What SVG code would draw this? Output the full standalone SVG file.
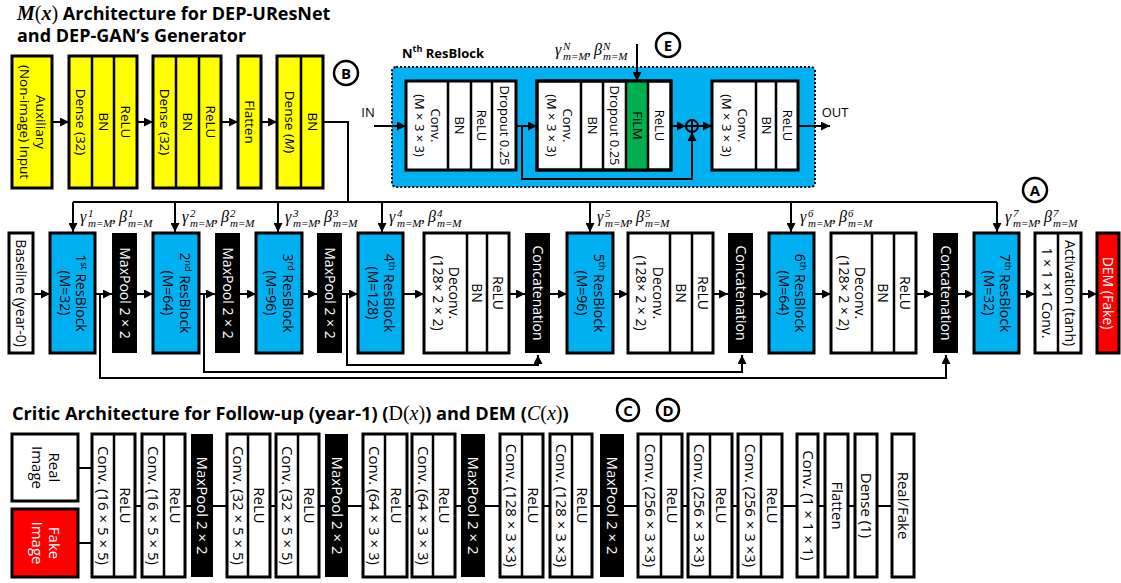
<svg xmlns="http://www.w3.org/2000/svg" width="1121" height="583" viewBox="0 0 1121 583">
<style>
.bx{stroke:#000;stroke-width:3}
.w{fill:#fff}
.y{fill:#ffff00}
.b{fill:#00b0f0}
.k{fill:#000}
.r{fill:#ff0000}
.g{fill:#00b050}
.dv{stroke:#000;stroke-width:2.5;fill:none}
.t{font-family:"Open Sans","Noto Sans","DejaVu Sans",sans-serif;font-size:14px;text-anchor:middle;fill:#000}
.t13{font-size:13px}
.ty{font-size:13.5px}
.t15{font-size:15px}
.tw{fill:#fff}
.c{stroke:#000;stroke-width:2;fill:none}
.ca{stroke:#000;stroke-width:2;fill:none;marker-end:url(#ah)}
.h{font-family:"Open Sans","Noto Sans",sans-serif;font-weight:bold;font-size:18px;fill:#000}
.h2{font-size:18.2px}
.h3{font-size:13px}
.mt{font-family:"Liberation Serif","DejaVu Serif",serif;font-weight:normal}
.mb{font-family:"Liberation Serif","DejaVu Serif",serif;font-weight:bold}
.it{font-style:italic}
.m{font-family:"Liberation Serif","DejaVu Serif",serif;font-style:italic;font-size:16px;fill:#000}
.s{font-size:11px}
.circ{fill:#fff;stroke:#000;stroke-width:2.5}
.ct{font-family:"Open Sans","Noto Sans",sans-serif;font-weight:bold;font-size:15px;text-anchor:middle}
.sp{font-size:9px}
</style>
<defs>
<marker id="ah" markerWidth="9" markerHeight="9" refX="9" refY="4.5" orient="auto" markerUnits="userSpaceOnUse"><path d="M0,0 L9,4.5 L0,9 Z" fill="#000"/></marker>
</defs>
<rect width="1121" height="583" fill="#fff"/>

<!-- Titles -->
<g id="title-generator">
<text class="h" x="17" y="20"><tspan class="mb it" font-size="20">M</tspan><tspan class="mt" font-size="20">(</tspan><tspan class="mb it" font-size="20">x</tspan><tspan class="mt" font-size="20">)</tspan> Architecture for DEP-UResNet</text>
<text class="h" x="17" y="42">and DEP-GAN’s Generator</text>
</g>
<g id="title-critic">
<text class="h h2" x="12" y="420">Critic Architecture for Follow-up (year-1) (<tspan class="mt" font-size="20">D</tspan><tspan class="mt" font-size="20">(</tspan><tspan class="mt it" font-size="20">x</tspan><tspan class="mt" font-size="20">)</tspan>) and DEM (<tspan class="mt it" font-size="20">C</tspan><tspan class="mt" font-size="20">(</tspan><tspan class="mt it" font-size="20">x</tspan><tspan class="mt" font-size="20">)</tspan>)</text>
</g>

<!-- Nth ResBlock container (drawn under the connectors) -->
<g id="resblock-detail">
<text class="h h3" x="402" y="58">N<tspan font-size="9" dy="-6">th</tspan><tspan dy="6"> ResBlock</tspan></text>
<rect x="392" y="67" width="423" height="120" rx="4" fill="#00b0f0" stroke="#000" stroke-width="2" stroke-dasharray="2,2"/>
</g>

<!-- Connectors -->
<g id="connectors">
<path class="ca" d="M52,122H69"/>
<path class="ca" d="M137,122H153"/>
<path class="ca" d="M221,122H238"/>
<path class="ca" d="M261,122H277"/>
<path class="c" d="M323,122H348V202"/>
<path class="c" d="M73,202H997"/>
<path class="ca" d="M73,202V232"/>
<path class="ca" d="M175,202V232"/>
<path class="ca" d="M278,202V232"/>
<path class="ca" d="M382,202V232"/>
<path class="ca" d="M590,202V232"/>
<path class="ca" d="M791,202V232"/>
<path class="ca" d="M997,202V232"/>
<!-- main row -->
<path class="ca" d="M33,294H50"/>
<path class="ca" d="M95,294H112"/>
<path class="ca" d="M137,294H153"/>
<path class="ca" d="M199,294H215"/>
<path class="ca" d="M240,294H256"/>
<path class="ca" d="M302,294H317"/>
<path class="ca" d="M342,294H358"/>
<path class="ca" d="M403,294H424"/>
<path class="ca" d="M509,294H525"/>
<path class="ca" d="M550,294H567"/>
<path class="ca" d="M613,294H628"/>
<path class="ca" d="M713,294H728"/>
<path class="ca" d="M753,294H769"/>
<path class="ca" d="M814,294H831"/>
<path class="ca" d="M916,294H933"/>
<path class="ca" d="M958,294H974"/>
<path class="ca" d="M1019,294H1035"/>
<path class="ca" d="M1081,294H1097"/>
<!-- skip connections -->
<path class="ca" d="M100,294V378H946V355"/>
<path class="ca" d="M204,294V372H742V355"/>
<path class="ca" d="M347,294V365H538V355"/>
<!-- ResBlock internals -->
<path class="ca" d="M374,126H406"/>
<path class="ca" d="M516,126H537"/>
<path class="ca" d="M522,126V179H692V132"/>
<path class="ca" d="M671,126H686"/>
<path class="ca" d="M698,126H712"/>
<path class="ca" d="M798,126H830"/>
<path class="ca" d="M637,44V81"/>
<!-- critic lines -->
<path class="c" d="M78,468H92M78,543H92M135,506H142M185,506H191M213,506H227M270,506H276M319,506H325M348,506H363M407,506H412M455,506H461M485,506H500M543,506H550M592,506H600M624,506H638M682,506H688M732,506H738M782,506H797M818,506H825M848,506H855M877,506H892"/>
</g>

<!-- M(x) yellow nodes -->
<g id="aux-input"><rect class="bx y" x="12" y="56" width="40" height="132"/>
<text class="t ty" transform="translate(32,122) rotate(90)"><tspan x="0" y="-3.5">Auxiliary</tspan><tspan x="0" y="12.5">(Non-image) Input</tspan></text></g>
<g id="dense1"><rect class="bx y" x="69" y="56" width="68" height="132"/><path class="dv" d="M92,56V188M114,56V188"/>
<text class="t ty" transform="translate(80.5,122) rotate(90)" y="4.5">Dense (32)</text>
<text class="t ty" transform="translate(103,122) rotate(90)" y="4.5">BN</text>
<text class="t ty" transform="translate(125.5,122) rotate(90)" y="4.5">ReLU</text></g>
<g id="dense2"><rect class="bx y" x="153" y="56" width="68" height="132"/><path class="dv" d="M176,56V188M199,56V188"/>
<text class="t ty" transform="translate(164.5,122) rotate(90)" y="4.5">Dense (32)</text>
<text class="t ty" transform="translate(187.5,122) rotate(90)" y="4.5">BN</text>
<text class="t ty" transform="translate(210,122) rotate(90)" y="4.5">ReLU</text></g>
<g id="flatten-m"><rect class="bx y" x="238" y="56" width="23" height="132"/>
<text class="t ty" transform="translate(249.5,122) rotate(90)" y="4.5">Flatten</text></g>
<g id="dense-m"><rect class="bx y" x="277" y="56" width="46" height="132"/><path class="dv" d="M301,56V188"/>
<text class="t ty" transform="translate(289,122) rotate(90)" y="4.5">Dense (<tspan class="it">M</tspan>)</text>
<text class="t ty" transform="translate(312,122) rotate(90)" y="4.5">BN</text></g>
<g id="mark-b"><circle class="circ" cx="346" cy="73" r="12"/><text class="ct" x="346" y="78.5">B</text></g>

<!-- Nth ResBlock inner nodes -->
<g id="rb-group1"><rect class="bx w" x="406" y="81" width="110" height="89"/><path class="dv" d="M448,81V170M471,81V170M492,81V170"/>
<text class="t t13" transform="translate(427,125.5) rotate(90)"><tspan x="0" y="-3.5">Conv.</tspan><tspan x="0" y="12.5">(M × 3 × 3)</tspan></text>
<text class="t t13" transform="translate(459.5,125.5) rotate(90)" y="4.5">BN</text>
<text class="t t13" transform="translate(481.5,125.5) rotate(90)" y="4.5">ReLU</text>
<text class="t t13" transform="translate(504,125.5) rotate(90)" y="4.5">Dropout 0.25</text></g>
<g id="rb-group2"><rect class="bx w" x="537" y="81" width="134" height="89"/><rect class="g" x="626" y="81" width="22" height="89"/><rect x="537" y="81" width="134" height="89" fill="none" stroke="#000" stroke-width="3"/><path class="dv" d="M581,81V170M603,81V170M626,81V170M648,81V170"/>
<text class="t t13" transform="translate(559,125.5) rotate(90)"><tspan x="0" y="-3.5">Conv.</tspan><tspan x="0" y="12.5">(M × 3 × 3)</tspan></text>
<text class="t t13" transform="translate(592,125.5) rotate(90)" y="4.5">BN</text>
<text class="t t13" transform="translate(614.5,125.5) rotate(90)" y="4.5">Dropout 0.25</text>
<text class="t t13" transform="translate(637,125.5) rotate(90)" y="4.5">FiLM</text>
<text class="t t13" transform="translate(659.5,125.5) rotate(90)" y="4.5">ReLU</text></g>
<g id="rb-add"><circle cx="692" cy="126" r="6" fill="none" stroke="#000" stroke-width="2"/><path d="M686,126H698M692,120V132" stroke="#000" stroke-width="2"/></g>
<g id="rb-group3"><rect class="bx w" x="712" y="81" width="86" height="89"/><path class="dv" d="M756,81V170M776,81V170"/>
<text class="t t13" transform="translate(734,125.5) rotate(90)"><tspan x="0" y="-3.5">Conv.</tspan><tspan x="0" y="12.5">(M × 3 × 3)</tspan></text>
<text class="t t13" transform="translate(766,125.5) rotate(90)" y="4.5">BN</text>
<text class="t t13" transform="translate(787,125.5) rotate(90)" y="4.5">ReLU</text></g>
<g id="rb-io"><text class="t t13" x="368" y="117">IN</text><text class="t t13" x="835" y="117">OUT</text></g>
<g id="film-label"><text class="m"><tspan x="555" y="55">γ</tspan><tspan class="s" x="563" y="50">N</tspan><tspan class="s" x="563" y="60">m=M</tspan><tspan x="587" y="55">,</tspan><tspan x="594" y="55">β</tspan><tspan class="s" x="603" y="50">N</tspan><tspan class="s" x="603" y="60">m=M</tspan></text></g>
<g id="mark-e"><circle class="circ" cx="668" cy="45" r="12"/><text class="ct" x="668" y="50.5">E</text></g>
<g id="mark-a"><circle class="circ" cx="1035" cy="190" r="12"/><text class="ct" x="1035" y="195.5">A</text></g>

<!-- FiLM parameter labels -->
<g id="film-labels">
<text class="m"><tspan x="80" y="222">γ</tspan><tspan class="s" x="88" y="217">1</tspan><tspan class="s" x="88" y="227">m=M</tspan><tspan x="112" y="222">,</tspan><tspan x="119" y="222">β</tspan><tspan class="s" x="128" y="217">1</tspan><tspan class="s" x="128" y="227">m=M</tspan></text>
<text class="m"><tspan x="182" y="222">γ</tspan><tspan class="s" x="190" y="217">2</tspan><tspan class="s" x="190" y="227">m=M</tspan><tspan x="214" y="222">,</tspan><tspan x="221" y="222">β</tspan><tspan class="s" x="230" y="217">2</tspan><tspan class="s" x="230" y="227">m=M</tspan></text>
<text class="m"><tspan x="285" y="222">γ</tspan><tspan class="s" x="293" y="217">3</tspan><tspan class="s" x="293" y="227">m=M</tspan><tspan x="317" y="222">,</tspan><tspan x="324" y="222">β</tspan><tspan class="s" x="333" y="217">3</tspan><tspan class="s" x="333" y="227">m=M</tspan></text>
<text class="m"><tspan x="389" y="222">γ</tspan><tspan class="s" x="397" y="217">4</tspan><tspan class="s" x="397" y="227">m=M</tspan><tspan x="421" y="222">,</tspan><tspan x="428" y="222">β</tspan><tspan class="s" x="437" y="217">4</tspan><tspan class="s" x="437" y="227">m=M</tspan></text>
<text class="m"><tspan x="597" y="222">γ</tspan><tspan class="s" x="605" y="217">5</tspan><tspan class="s" x="605" y="227">m=M</tspan><tspan x="629" y="222">,</tspan><tspan x="636" y="222">β</tspan><tspan class="s" x="645" y="217">5</tspan><tspan class="s" x="645" y="227">m=M</tspan></text>
<text class="m"><tspan x="800" y="222">γ</tspan><tspan class="s" x="808" y="217">6</tspan><tspan class="s" x="808" y="227">m=M</tspan><tspan x="832" y="222">,</tspan><tspan x="839" y="222">β</tspan><tspan class="s" x="848" y="217">6</tspan><tspan class="s" x="848" y="227">m=M</tspan></text>
<text class="m"><tspan x="1005" y="222">γ</tspan><tspan class="s" x="1013" y="217">7</tspan><tspan class="s" x="1013" y="227">m=M</tspan><tspan x="1037" y="222">,</tspan><tspan x="1044" y="222">β</tspan><tspan class="s" x="1053" y="217">7</tspan><tspan class="s" x="1053" y="227">m=M</tspan></text>
</g>

<!-- Main row -->
<g id="baseline"><rect class="bx w" x="9" y="233" width="24" height="120"/>
<text class="t" transform="translate(21,293) rotate(90)" y="5">Baseline (year-0)</text></g>
<g id="resblock1"><rect class="bx b" x="50" y="233" width="45" height="120"/>
<text class="t" transform="translate(72.5,293) rotate(90)"><tspan x="0" y="-3.5">1<tspan class="sp" dy="-5">st</tspan><tspan dy="5"> ResBlock</tspan></tspan><tspan x="0" y="13">(M=32)</tspan></text></g>
<g id="maxpool1"><rect class="k" x="112" y="233" width="25" height="120"/>
<text class="t tw" transform="translate(124.5,293) rotate(90)" y="5">MaxPool 2 × 2</text></g>
<g id="resblock2"><rect class="bx b" x="153" y="233" width="46" height="120"/>
<text class="t" transform="translate(176,293) rotate(90)"><tspan x="0" y="-3.5">2<tspan class="sp" dy="-5">nd</tspan><tspan dy="5"> ResBlock</tspan></tspan><tspan x="0" y="13">(M=64)</tspan></text></g>
<g id="maxpool2"><rect class="k" x="215" y="233" width="25" height="120"/>
<text class="t tw" transform="translate(227.5,293) rotate(90)" y="5">MaxPool 2 × 2</text></g>
<g id="resblock3"><rect class="bx b" x="256" y="233" width="46" height="120"/>
<text class="t" transform="translate(279,293) rotate(90)"><tspan x="0" y="-3.5">3<tspan class="sp" dy="-5">rd</tspan><tspan dy="5"> ResBlock</tspan></tspan><tspan x="0" y="13">(M=96)</tspan></text></g>
<g id="maxpool3"><rect class="k" x="317" y="233" width="25" height="120"/>
<text class="t tw" transform="translate(329.5,293) rotate(90)" y="5">MaxPool 2 × 2</text></g>
<g id="resblock4"><rect class="bx b" x="358" y="233" width="45" height="120"/>
<text class="t" transform="translate(380.5,293) rotate(90)"><tspan x="0" y="-3.5">4<tspan class="sp" dy="-5">th</tspan><tspan dy="5"> ResBlock</tspan></tspan><tspan x="0" y="13">(M=128)</tspan></text></g>
<g id="deconv1"><rect class="bx w" x="424" y="233" width="85" height="120"/><path class="dv" d="M467,233V353M487,233V353"/>
<text class="t" transform="translate(445.5,293) rotate(90)"><tspan x="0" y="-3.5">Deconv.</tspan><tspan x="0" y="13">(128× 2 × 2)</tspan></text>
<text class="t" transform="translate(477,293) rotate(90)" y="5">BN</text>
<text class="t" transform="translate(498,293) rotate(90)" y="5">ReLU</text></g>
<g id="concat1"><rect class="k" x="525" y="233" width="25" height="120"/>
<text class="t tw" transform="translate(537.5,293) rotate(90)" y="5">Concatenation</text></g>
<g id="resblock5"><rect class="bx b" x="567" y="233" width="46" height="120"/>
<text class="t" transform="translate(590,293) rotate(90)"><tspan x="0" y="-3.5">5<tspan class="sp" dy="-5">th</tspan><tspan dy="5"> ResBlock</tspan></tspan><tspan x="0" y="13">(M=96)</tspan></text></g>
<g id="deconv2"><rect class="bx w" x="628" y="233" width="85" height="120"/><path class="dv" d="M670,233V353M692,233V353"/>
<text class="t" transform="translate(649,293) rotate(90)"><tspan x="0" y="-3.5">Deconv.</tspan><tspan x="0" y="13">(128× 2 × 2)</tspan></text>
<text class="t" transform="translate(681,293) rotate(90)" y="5">BN</text>
<text class="t" transform="translate(702.5,293) rotate(90)" y="5">ReLU</text></g>
<g id="concat2"><rect class="k" x="728" y="233" width="25" height="120"/>
<text class="t tw" transform="translate(740.5,293) rotate(90)" y="5">Concatenation</text></g>
<g id="resblock6"><rect class="bx b" x="769" y="233" width="45" height="120"/>
<text class="t" transform="translate(791.5,293) rotate(90)"><tspan x="0" y="-3.5">6<tspan class="sp" dy="-5">th</tspan><tspan dy="5"> ResBlock</tspan></tspan><tspan x="0" y="13">(M=64)</tspan></text></g>
<g id="deconv3"><rect class="bx w" x="831" y="233" width="85" height="120"/><path class="dv" d="M872,233V353M894,233V353"/>
<text class="t" transform="translate(851.5,293) rotate(90)"><tspan x="0" y="-3.5">Deconv.</tspan><tspan x="0" y="13">(128× 2 × 2)</tspan></text>
<text class="t" transform="translate(883,293) rotate(90)" y="5">BN</text>
<text class="t" transform="translate(905,293) rotate(90)" y="5">ReLU</text></g>
<g id="concat3"><rect class="k" x="933" y="233" width="25" height="120"/>
<text class="t tw" transform="translate(945.5,293) rotate(90)" y="5">Concatenation</text></g>
<g id="resblock7"><rect class="bx b" x="974" y="233" width="45" height="120"/>
<text class="t" transform="translate(996.5,293) rotate(90)"><tspan x="0" y="-3.5">7<tspan class="sp" dy="-5">th</tspan><tspan dy="5"> ResBlock</tspan></tspan><tspan x="0" y="13">(M=32)</tspan></text></g>
<g id="output-conv"><rect class="bx w" x="1035" y="233" width="46" height="120"/><path class="dv" d="M1058,233V353"/>
<text class="t" transform="translate(1046.5,293) rotate(90)" y="5">1 × 1 ×1 Conv.</text>
<text class="t" transform="translate(1069.5,293) rotate(90)" y="5">Activation (tanh)</text></g>
<g id="dem-fake"><rect class="bx r" x="1097" y="233" width="22" height="120"/>
<text class="t tw" transform="translate(1108,293) rotate(90)" y="5">DEM (Fake)</text></g>

<!-- Critic -->
<g id="mark-c"><circle class="circ" cx="628" cy="410" r="11"/><text class="ct" x="628" y="415.5">C</text></g>
<g id="mark-d"><circle class="circ" cx="668" cy="410" r="11"/><text class="ct" x="668" y="415.5">D</text></g>
<g id="real-image"><rect class="bx w" x="12" y="434" width="66" height="67"/>
<text class="t t15" transform="translate(45,467.5) rotate(90)"><tspan x="0" y="-4">Real</tspan><tspan x="0" y="13.5">Image</tspan></text></g>
<g id="fake-image"><rect class="bx r" x="12" y="509" width="66" height="68"/>
<text class="t t15 tw" transform="translate(45,543) rotate(90)"><tspan x="0" y="-4">Fake</tspan><tspan x="0" y="13.5">Image</tspan></text></g>
<g id="c-conv1"><rect class="bx w" x="92" y="434" width="43" height="143"/><path class="dv" d="M114,434V577"/>
<text class="t t15" transform="translate(103,505.5) rotate(90)" y="5">Conv. (16 × 5 × 5)</text>
<text class="t t15" transform="translate(124.5,505.5) rotate(90)" y="5">ReLU</text></g>
<g id="c-conv2"><rect class="bx w" x="142" y="434" width="43" height="143"/><path class="dv" d="M164,434V577"/>
<text class="t t15" transform="translate(153,505.5) rotate(90)" y="5">Conv. (16 × 5 × 5)</text>
<text class="t t15" transform="translate(174.5,505.5) rotate(90)" y="5">ReLU</text></g>
<g id="c-pool1"><rect class="k" x="191" y="434" width="22" height="143"/>
<text class="t t15 tw" transform="translate(202,505.5) rotate(90)" y="5">MaxPool 2 × 2</text></g>
<g id="c-conv3"><rect class="bx w" x="227" y="434" width="43" height="143"/><path class="dv" d="M248,434V577"/>
<text class="t t15" transform="translate(237.5,505.5) rotate(90)" y="5">Conv. (32 × 5 × 5)</text>
<text class="t t15" transform="translate(259,505.5) rotate(90)" y="5">ReLU</text></g>
<g id="c-conv4"><rect class="bx w" x="276" y="434" width="43" height="143"/><path class="dv" d="M298,434V577"/>
<text class="t t15" transform="translate(287,505.5) rotate(90)" y="5">Conv. (32 × 5 × 5)</text>
<text class="t t15" transform="translate(308.5,505.5) rotate(90)" y="5">ReLU</text></g>
<g id="c-pool2"><rect class="k" x="325" y="434" width="23" height="143"/>
<text class="t t15 tw" transform="translate(336.5,505.5) rotate(90)" y="5">MaxPool 2 × 2</text></g>
<g id="c-conv5"><rect class="bx w" x="363" y="434" width="44" height="143"/><path class="dv" d="M385,434V577"/>
<text class="t t15" transform="translate(374,505.5) rotate(90)" y="5">Conv. (64 × 3 × 3)</text>
<text class="t t15" transform="translate(396,505.5) rotate(90)" y="5">ReLU</text></g>
<g id="c-conv6"><rect class="bx w" x="412" y="434" width="43" height="143"/><path class="dv" d="M433,434V577"/>
<text class="t t15" transform="translate(422.5,505.5) rotate(90)" y="5">Conv. (64 × 3 × 3)</text>
<text class="t t15" transform="translate(444,505.5) rotate(90)" y="5">ReLU</text></g>
<g id="c-pool3"><rect class="k" x="461" y="434" width="24" height="143"/>
<text class="t t15 tw" transform="translate(473,505.5) rotate(90)" y="5">MaxPool 2 × 2</text></g>
<g id="c-conv7"><rect class="bx w" x="500" y="434" width="43" height="143"/><path class="dv" d="M522,434V577"/>
<text class="t t15" transform="translate(511,505.5) rotate(90)" y="5">Conv. (128 × 3 ×3)</text>
<text class="t t15" transform="translate(532.5,505.5) rotate(90)" y="5">ReLU</text></g>
<g id="c-conv8"><rect class="bx w" x="550" y="434" width="42" height="143"/><path class="dv" d="M572,434V577"/>
<text class="t t15" transform="translate(561,505.5) rotate(90)" y="5">Conv. (128 × 3 ×3)</text>
<text class="t t15" transform="translate(582,505.5) rotate(90)" y="5">ReLU</text></g>
<g id="c-pool4"><rect class="k" x="600" y="434" width="24" height="143"/>
<text class="t t15 tw" transform="translate(612,505.5) rotate(90)" y="5">MaxPool 2 × 2</text></g>
<g id="c-conv9"><rect class="bx w" x="638" y="434" width="44" height="143"/><path class="dv" d="M661,434V577"/>
<text class="t t15" transform="translate(649.5,505.5) rotate(90)" y="5">Conv. (256 × 3 ×3)</text>
<text class="t t15" transform="translate(671.5,505.5) rotate(90)" y="5">ReLU</text></g>
<g id="c-conv10"><rect class="bx w" x="688" y="434" width="44" height="143"/><path class="dv" d="M710,434V577"/>
<text class="t t15" transform="translate(699,505.5) rotate(90)" y="5">Conv. (256 × 3 ×3)</text>
<text class="t t15" transform="translate(721,505.5) rotate(90)" y="5">ReLU</text></g>
<g id="c-conv11"><rect class="bx w" x="738" y="434" width="44" height="143"/><path class="dv" d="M761,434V577"/>
<text class="t t15" transform="translate(749.5,505.5) rotate(90)" y="5">Conv. (256 × 3 ×3)</text>
<text class="t t15" transform="translate(771.5,505.5) rotate(90)" y="5">ReLU</text></g>
<g id="c-conv12"><rect class="bx w" x="797" y="434" width="21" height="143"/>
<text class="t t15" transform="translate(807.5,505.5) rotate(90)" y="5">Conv. (1 × 1 × 1)</text></g>
<g id="c-flatten"><rect class="bx w" x="825" y="434" width="23" height="143"/>
<text class="t t15" transform="translate(836.5,505.5) rotate(90)" y="5">Flatten</text></g>
<g id="c-dense"><rect class="bx w" x="855" y="434" width="22" height="143"/>
<text class="t t15" transform="translate(866,505.5) rotate(90)" y="5">Dense (1)</text></g>
<g id="c-output"><rect class="bx w" x="892" y="434" width="22" height="143"/>
<text class="t t15" transform="translate(903,505.5) rotate(90)" y="5">Real/Fake</text></g>
</svg>
